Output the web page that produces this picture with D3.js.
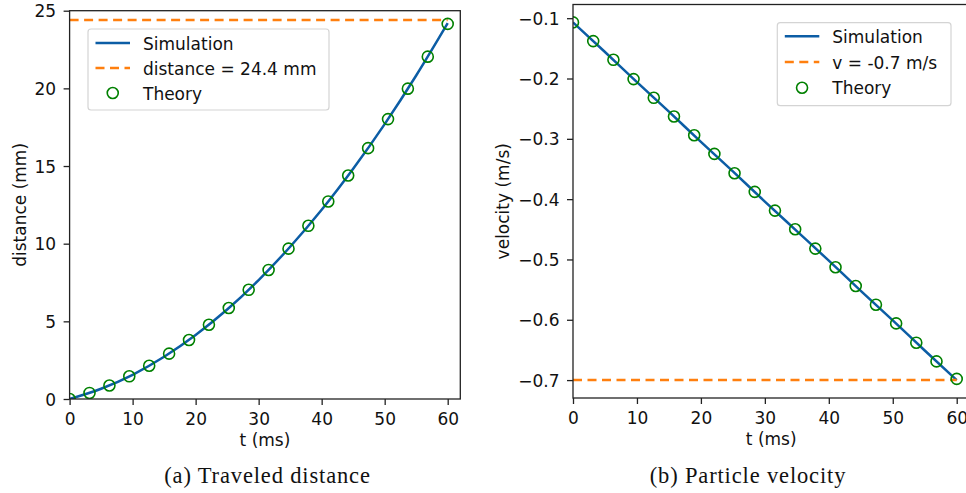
<!DOCTYPE html>
<html lang="en">
<head>
<meta charset="UTF-8">
<title>Traveled distance and particle velocity</title>
<script src="https://d3js.org/d3.v7.min.js"></script>
<style>
  body { margin: 0; background: #fff; }
  svg text { font-family: "DejaVu Sans", sans-serif; fill: #111; }
  .caption { font-family: "Liberation Serif", "DejaVu Serif", serif; letter-spacing: 0.85px; }
</style>
</head>
<body>
<div id="chart"></div>
<script>
// simulation samples (t in ms)
const simT = [0, 5, 10, 15, 20, 25, 30, 35, 40, 45, 50, 55, 60];
const simDistance = [0, 0.66, 1.56, 2.72, 4.12, 5.76, 7.66, 9.80, 12.18, 14.82, 17.70, 20.83, 24.20];
const simVelocity = [-0.107, -0.156, -0.206, -0.255, -0.305, -0.354, -0.404, -0.453, -0.502, -0.552, -0.601, -0.651, -0.700];

// theory points
const theoryT = [0, 3.16, 6.32, 9.47, 12.63, 15.79, 18.95, 22.11, 25.26, 28.42,
                 31.58, 34.74, 37.89, 41.05, 44.21, 47.37, 50.53, 53.68, 56.84, 60];
const theoryDistance = [0, 0.39, 0.87, 1.46, 2.14, 2.92, 3.80, 4.78, 5.86, 7.03,
                        8.31, 9.68, 11.15, 12.72, 14.39, 16.15, 18.02, 19.98, 22.04, 24.15];
const theoryVelocity = [-0.107, -0.138, -0.169, -0.201, -0.232, -0.263, -0.294, -0.325, -0.357, -0.388,
                        -0.419, -0.450, -0.482, -0.513, -0.544, -0.575, -0.606, -0.638, -0.669, -0.698];

// reference lines
const finalDistance = 24.4;
const finalVelocity = -0.7;

// tick labels
const xTicks = [0, 10, 20, 30, 40, 50, 60];
const distTicks = [0, 5, 10, 15, 20, 25];
const velTicks = [-0.1, -0.2, -0.3, -0.4, -0.5, -0.6, -0.7];

const svg = d3.select("#chart").append("svg")
  .attr("width", 966).attr("height", 493);

const blue = "#0c5da5", orange = "#ff7f0e", green = "#008000", ink = "#222";

function panel(p) {
  const x = d3.scaleLinear().domain(p.xDomain).range([p.left, p.right]);
  const y = d3.scaleLinear().domain(p.yDomain).range([p.bottom, p.top]);

  const clipId = "clip-" + p.id;
  svg.append("clipPath").attr("id", clipId)
    .append("rect")
    .attr("x", p.left).attr("y", p.top)
    .attr("width", p.right - p.left).attr("height", p.bottom - p.top);

  const plot = svg.append("g").attr("clip-path", `url(#${clipId})`);

  // simulation curve
  plot.append("path")
    .datum(p.simT.map((t, i) => [t, p.simY[i]]))
    .attr("fill", "none")
    .attr("stroke", blue)
    .attr("stroke-width", 2.5)
    .attr("d", d3.line().x(d => x(d[0])).y(d => y(d[1])).curve(d3.curveMonotoneX));

  // dashed reference line from t=0 to t=60
  plot.append("line")
    .attr("x1", x(0)).attr("x2", x(60))
    .attr("y1", y(p.refY)).attr("y2", y(p.refY))
    .attr("stroke", orange).attr("stroke-width", 2.5)
    .attr("stroke-dasharray", "9,5.5");

  // theory circles
  plot.selectAll(null)
    .data(p.thT.map((t, i) => [t, p.thY[i]]))
    .enter().append("circle")
    .attr("cx", d => x(d[0])).attr("cy", d => y(d[1]))
    .attr("r", 5.5)
    .attr("fill", "none").attr("stroke", green).attr("stroke-width", 1.6);

  // axes
  const gx = svg.append("g").attr("transform", `translate(0,${p.bottom})`)
    .call(d3.axisBottom(x).tickValues(xTicks).tickSize(6).tickFormat(d3.format("d")));
  gx.select(".domain").remove();
  gx.selectAll(".tick line").attr("stroke", ink).attr("stroke-width", 1.3);
  gx.selectAll(".tick text").attr("y", 26).attr("dy", null)
    .style("font-size", "17px").attr("fill", "#111");

  const gy = svg.append("g").attr("transform", `translate(${p.left},0)`)
    .call(d3.axisLeft(y).tickValues(p.yTicks).tickSize(6).tickFormat(p.yFormat));
  gy.select(".domain").remove();
  gy.selectAll(".tick line").attr("stroke", ink).attr("stroke-width", 1.3);
  gy.selectAll(".tick text").attr("x", -13.5).attr("dy", "0.36em")
    .style("font-size", "17px").attr("fill", "#111");

  // spines
  svg.append("rect")
    .attr("x", p.left).attr("y", p.top)
    .attr("width", p.right - p.left).attr("height", p.bottom - p.top)
    .attr("fill", "none").attr("stroke", ink).attr("stroke-width", 1.3);

  // axis labels
  svg.append("text")
    .attr("x", (p.left + p.right) / 2).attr("y", p.bottom + 47)
    .attr("text-anchor", "middle").style("font-size", "17px")
    .text("t (ms)");
  svg.append("text")
    .attr("transform", `translate(${p.yLabelX},${(p.top + p.bottom) / 2}) rotate(-90)`)
    .attr("text-anchor", "middle").style("font-size", "17px")
    .text(p.yLabel);

  // legend
  const lg = p.legend;
  svg.append("rect")
    .attr("x", lg.x).attr("y", lg.y).attr("width", lg.w).attr("height", lg.h)
    .attr("rx", 3).attr("fill", "#fff").attr("fill-opacity", 0.85)
    .attr("stroke", "#d4d4d4").attr("stroke-width", 1.2);
  const rows = [
    { kind: "line", label: "Simulation" },
    { kind: "dash", label: p.refLabel },
    { kind: "circle", label: "Theory" }
  ];
  rows.forEach((r, i) => {
    const base = lg.y + lg.first + i * lg.step;
    const cy = base - 6.5;
    const x0 = lg.x + 7.5, x1 = lg.x + 42;
    if (r.kind === "line") {
      svg.append("line").attr("x1", x0).attr("x2", x1).attr("y1", cy).attr("y2", cy)
        .attr("stroke", blue).attr("stroke-width", 2.5);
    } else if (r.kind === "dash") {
      svg.append("line").attr("x1", x0).attr("x2", x1).attr("y1", cy).attr("y2", cy)
        .attr("stroke", orange).attr("stroke-width", 2.5).attr("stroke-dasharray", "9,5.5");
    } else {
      svg.append("circle").attr("cx", (x0 + x1) / 2).attr("cy", cy).attr("r", 5.5)
        .attr("fill", "none").attr("stroke", green).attr("stroke-width", 1.6);
    }
    svg.append("text").attr("x", lg.x + 55).attr("y", base)
      .style("font-size", "17px").text(r.label);
  });

  // caption
  svg.append("text").attr("class", "caption")
    .attr("x", p.captionX).attr("y", 483)
    .attr("text-anchor", "middle").style("font-size", "22.5px")
    .text(p.caption);
}

const minus = d3.format(".1f");

panel({
  id: "a", left: 69.6, right: 460.3, top: 10.7, bottom: 399,
  xDomain: [0, 62], yDomain: [0, 25],
  simT: simT, simY: simDistance, thT: theoryT, thY: theoryDistance,
  refY: finalDistance, refLabel: "distance = 24.4 mm",
  yTicks: distTicks, yFormat: d3.format("d"),
  yLabel: "distance (mm)", yLabelX: 26,
  legend: { x: 88, y: 29, w: 241, h: 81, first: 20.5, step: 25 },
  caption: "(a) Traveled distance", captionX: 267.5
});

panel({
  id: "b", left: 573, right: 969.5, top: 4.5, bottom: 398,
  xDomain: [0, 62], yDomain: [-0.7297, -0.0773],
  simT: simT, simY: simVelocity, thT: theoryT, thY: theoryVelocity,
  refY: finalVelocity, refLabel: "v = -0.7 m/s",
  yTicks: velTicks, yFormat: d => minus(d).replace("-", "\u2212"),
  yLabel: "velocity (m/s)", yLabelX: 509,
  legend: { x: 777.3, y: 22.7, w: 173.7, h: 83, first: 20, step: 25.8 },
  caption: "(b) Particle velocity", captionX: 748
});
</script>
</body>
</html>
